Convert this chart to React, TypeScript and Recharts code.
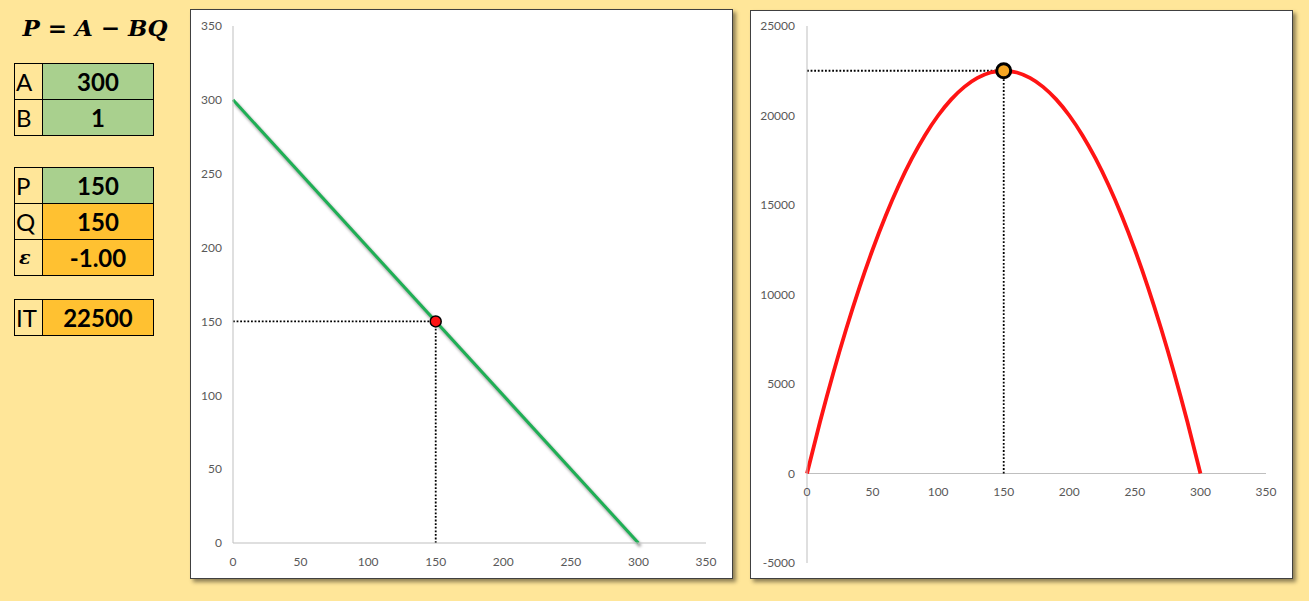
import React from "react";
import {
  ComposedChart,
  Line,
  XAxis,
  YAxis,
  ReferenceLine,
  ReferenceDot,
} from "recharts";

// demand line P = A - BQ
const demandQ = [0, 300];
const demandP = [300, 0];

// total revenue IT = P * Q
const revenueQ = [
  0, 10, 20, 30, 40, 50, 60, 70, 80, 90, 100, 110, 120, 130, 140, 150, 160,
  170, 180, 190, 200, 210, 220, 230, 240, 250, 260, 270, 280, 290, 300,
];
const revenueIT = [
  0, 2900, 5600, 8100, 10400, 12500, 14400, 16100, 17600, 18900, 20000, 20900,
  21600, 22100, 22400, 22500, 22400, 22100, 21600, 20900, 20000, 18900, 17600,
  16100, 14400, 12500, 10400, 8100, 5600, 2900, 0,
];

const qTicks = [0, 50, 100, 150, 200, 250, 300, 350];
const pTicks = [0, 50, 100, 150, 200, 250, 300, 350];
const itTicks = [-5000, 0, 5000, 10000, 15000, 20000, 25000];

// selected point
const paramA = 300;
const paramB = 1;
const pointP = 150;
const pointQ = 150;
const elasticity = "-1.00";
const pointIT = 22500;

const BG = "#FFE699";
const GREEN = "#A9D08E";
const ORANGE = "#FFC131";
const AXIS = "#BFBFBF";
const TICK = { fill: "#595959", fontSize: 12, fontFamily: "Lato" };

const demandData = demandQ.map((q, i) => ({ q, p: demandP[i] }));
const revenueData = revenueQ.map((q, i) => ({ q, it: revenueIT[i] }));

const IT_MIN = -5000;
const IT_MAX = 25000;
const RIGHT_PLOT_H = 537;
const zeroShift = (RIGHT_PLOT_H * (0 - IT_MIN)) / (IT_MAX - IT_MIN);

function ZeroAxisTick({ x, y, payload }: any) {
  return (
    <text
      x={x}
      y={y - zeroShift + 14}
      dy="0.71em"
      textAnchor="middle"
      fill={TICK.fill}
      fontSize={TICK.fontSize}
      fontFamily={TICK.fontFamily}
    >
      {payload.value}
    </text>
  );
}

type Row = { label: React.ReactNode; value: React.ReactNode; color: string };

function ParamTable({ top, rows }: { top: number; rows: Row[] }) {
  return (
    <div
      style={{
        position: "absolute",
        left: 14,
        top,
        width: 140,
        border: "1px solid #000",
        boxSizing: "border-box",
      }}
    >
      {rows.map((r, i) => (
        <div
          key={i}
          style={{
            display: "flex",
            height: 35,
            borderTop: i > 0 ? "1px solid #000" : "none",
          }}
        >
          <div
            style={{
              width: 28,
              borderRight: "1px solid #000",
              background: BG,
              fontFamily: "Lato",
              fontSize: 24,
              lineHeight: "35px",
              paddingLeft: 1,
              boxSizing: "border-box",
            }}
          >
            {r.label}
          </div>
          <div
            style={{
              flex: 1,
              background: r.color,
              fontFamily: "Lato",
              fontWeight: 700,
              fontSize: 24,
              lineHeight: "35px",
              textAlign: "center",
            }}
          >
            {r.value}
          </div>
        </div>
      ))}
    </div>
  );
}

const boxStyle: React.CSSProperties = {
  position: "absolute",
  background: "#fff",
  border: "1px solid #404040",
  boxShadow: "3px 3px 4px rgba(0,0,0,0.45)",
};

export default function App() {
  return (
    <div
      style={{
        position: "absolute",
        left: 0,
        top: 0,
        width: 1309,
        height: 601,
        background: BG,
        overflow: "hidden",
      }}
    >
      <style>{`.demand-line path.recharts-line-curve { filter: drop-shadow(2px 3px 1.5px rgba(0,0,0,0.45)); }`}</style>

      <div
        style={{
          position: "absolute",
          left: 2,
          width: 186,
          top: 14,
          textAlign: "center",
          fontFamily: "DejaVu Serif",
          fontStyle: "italic",
          fontWeight: 700,
          fontSize: 23,
        }}
      >
        P = A − BQ
      </div>

      <ParamTable
        top={63}
        rows={[
          { label: "A", value: paramA, color: GREEN },
          { label: "B", value: paramB, color: GREEN },
        ]}
      />
      <ParamTable
        top={167}
        rows={[
          { label: "P", value: pointP, color: GREEN },
          { label: "Q", value: pointQ, color: ORANGE },
          {
            label: (
              <span
                style={{
                  fontFamily: "DejaVu Serif",
                  fontStyle: "italic",
                  fontWeight: 700,
                  fontSize: 19,
                  paddingLeft: 3,
                  position: "relative",
                  top: -3,
                }}
              >
                ε
              </span>
            ),
            value: elasticity,
            color: ORANGE,
          },
        ]}
      />
      <ParamTable
        top={299}
        rows={[{ label: "IT", value: pointIT, color: ORANGE }]}
      />

      {/* demand chart */}
      <div style={{ ...boxStyle, left: 190, top: 9, width: 541, height: 568 }}>
        <ComposedChart
          width={541}
          height={568}
          data={demandData}
          margin={{ top: 16, right: 26, bottom: 0, left: 0 }}
        >
          <XAxis
            dataKey="q"
            type="number"
            domain={[0, 350]}
            ticks={qTicks}
            height={35}
            axisLine={{ stroke: AXIS }}
            tickLine={false}
            tickSize={0}
            tickMargin={14}
            tick={TICK}
          />
          <YAxis
            type="number"
            domain={[0, 350]}
            ticks={pTicks}
            width={42}
            axisLine={{ stroke: AXIS }}
            tickLine={false}
            tickSize={0}
            tickMargin={11}
            tick={TICK}
          />
          <Line
            className="demand-line"
            dataKey="p"
            type="linear"
            stroke="#1FAF55"
            strokeWidth={3}
            dot={false}
            isAnimationActive={false}
          />
          <ReferenceLine
            segment={[
              { x: 0, y: pointP },
              { x: pointQ, y: pointP },
            ]}
            stroke="#000"
            strokeWidth={1.8}
            strokeDasharray="1.8 1.8"
          />
          <ReferenceLine
            segment={[
              { x: pointQ, y: 0 },
              { x: pointQ, y: pointP },
            ]}
            stroke="#000"
            strokeWidth={1.8}
            strokeDasharray="1.8 1.8"
          />
          <ReferenceDot
            x={pointQ}
            y={pointP}
            r={5.5}
            fill="#FF1414"
            stroke="#000"
            strokeWidth={1.5}
          />
        </ComposedChart>
      </div>

      {/* revenue chart */}
      <div style={{ ...boxStyle, left: 750, top: 10, width: 541, height: 567 }}>
        <ComposedChart
          width={541}
          height={567}
          data={revenueData}
          margin={{ top: 15, right: 26, bottom: 0, left: 0 }}
        >
          <XAxis
            dataKey="q"
            type="number"
            domain={[0, 350]}
            ticks={qTicks}
            height={15}
            axisLine={false}
            tickLine={false}
            tickSize={0}
            tickMargin={0}
            tick={<ZeroAxisTick />}
          />
          <YAxis
            type="number"
            domain={[IT_MIN, IT_MAX]}
            ticks={itTicks}
            width={56}
            axisLine={{ stroke: AXIS }}
            tickLine={false}
            tickSize={0}
            tickMargin={12}
            tick={TICK}
          />
          <ReferenceLine y={0} stroke={AXIS} />
          <ReferenceLine
            segment={[
              { x: 0, y: pointIT },
              { x: pointQ, y: pointIT },
            ]}
            stroke="#000"
            strokeWidth={1.8}
            strokeDasharray="1.8 1.8"
          />
          <ReferenceLine
            segment={[
              { x: pointQ, y: 0 },
              { x: pointQ, y: pointIT },
            ]}
            stroke="#000"
            strokeWidth={1.8}
            strokeDasharray="1.8 1.8"
          />
          <Line
            dataKey="it"
            type="monotone"
            stroke="#FF1414"
            strokeWidth={3.8}
            dot={false}
            isAnimationActive={false}
          />
          <ReferenceDot
            x={pointQ}
            y={pointIT}
            r={7}
            fill="#F5A623"
            stroke="#000"
            strokeWidth={3}
          />
        </ComposedChart>
      </div>
    </div>
  );
}
